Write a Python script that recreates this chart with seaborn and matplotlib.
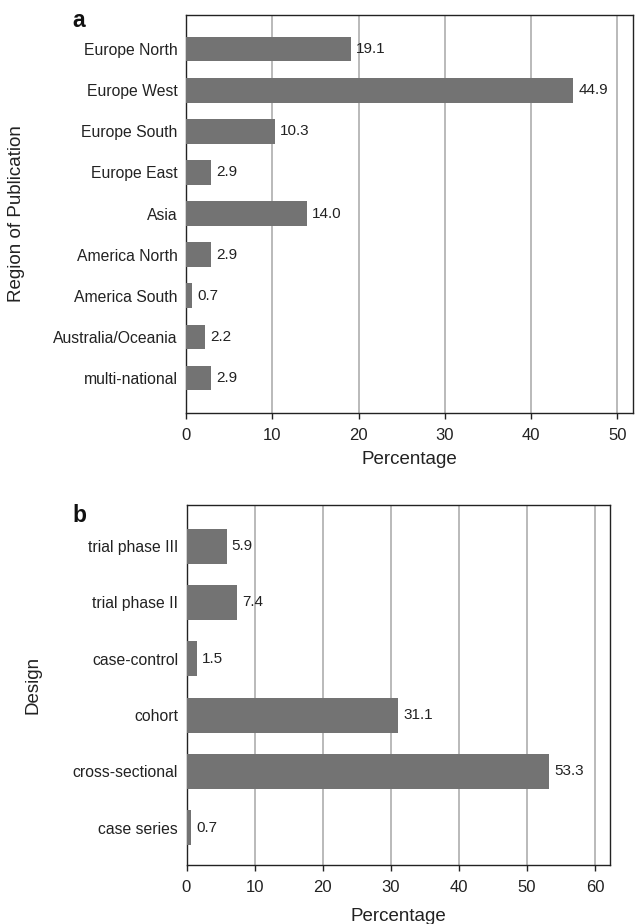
import matplotlib
matplotlib.use("Agg")
import matplotlib.pyplot as plt
import seaborn as sns
import pandas as pd

regions = ["Europe North", "Europe West", "Europe South", "Europe East", "Asia",
           "America North", "America South", "Australia/Oceania", "multi-national"]
region_pct = [19.1, 44.9, 10.3, 2.9, 14.0, 2.9, 0.7, 2.2, 2.9]

designs = ["trial phase III", "trial phase II", "case-control", "cohort",
           "cross-sectional", "case series"]
design_pct = [5.9, 7.4, 1.5, 31.1, 53.3, 0.7]

sns.set_theme(style="white")
plt.rcParams['font.family'] = ['Liberation Sans', 'DejaVu Sans']

fig = plt.figure(figsize=(6.36, 9.24), dpi=100)
W, H = 636, 924
ax1 = fig.add_axes([186 / W, 1 - 413 / H, (633 - 186) / W, (413 - 15) / H])
ax2 = fig.add_axes([186.5 / W, 1 - 865 / H, (610 - 186.5) / W, (865 - 505) / H])

bar_color = "#737373"
txt = "#222222"

def draw(ax, cats, vals, xmax, ticks, ylabel, width):
    df = pd.DataFrame({"cat": cats, "val": vals})
    sns.barplot(data=df, x="val", y="cat", orient="h", color=bar_color,
                saturation=1, width=width, ax=ax, zorder=3,
                linewidth=0, edgecolor="none")
    for i, v in enumerate(vals):
        ax.text(v + xmax * 0.012, i, f"{v:.1f}", va="center", ha="left",
                fontsize=11, color=txt, zorder=4)
    ax.set_xlim(0, xmax)
    ax.set_xticks(ticks)
    ax.xaxis.grid(True, color="#b4b4b4", linewidth=1.3, zorder=0)
    ax.set_axisbelow(True)
    for s in ax.spines.values():
        s.set_color(txt)
        s.set_linewidth(1.0)
    ax.tick_params(axis="x", direction="out", length=4.5, width=1, color=txt,
                   labelsize=12, labelcolor=txt, bottom=True, pad=6)
    ax.tick_params(axis="y", length=0, labelsize=11.3, labelcolor=txt, pad=6)
    ax.set_xlabel("Percentage", fontsize=13.5, color=txt, labelpad=6)
    ax.set_ylabel(ylabel, fontsize=13.5, color=txt)

draw(ax1, regions, region_pct, 51.8, [0, 10, 20, 30, 40, 50], "Region of Publication", 0.6)
ax1.set_ylim(len(regions) - 1 + 0.85, -0.83)
ax1.yaxis.set_label_coords(-161 / (633 - 186), 0.5)

draw(ax2, designs, design_pct, 62.2, [0, 10, 20, 30, 40, 50, 60], "Design", 0.62)
ax2.set_ylim(len(designs) - 1 + 0.66, -0.73)
ax2.yaxis.set_label_coords(-145 / (610 - 186.5), 0.5)
ax2.xaxis.labelpad = 10

fig.text(72 / W, 1 - 27 / H, "a", fontsize=16.5, fontweight="bold", color="#111111",
         va="baseline")
fig.text(72 / W, 1 - 522 / H, "b", fontsize=16.5, fontweight="bold", color="#111111",
         va="baseline")

fig.savefig("out.png", dpi=100)
